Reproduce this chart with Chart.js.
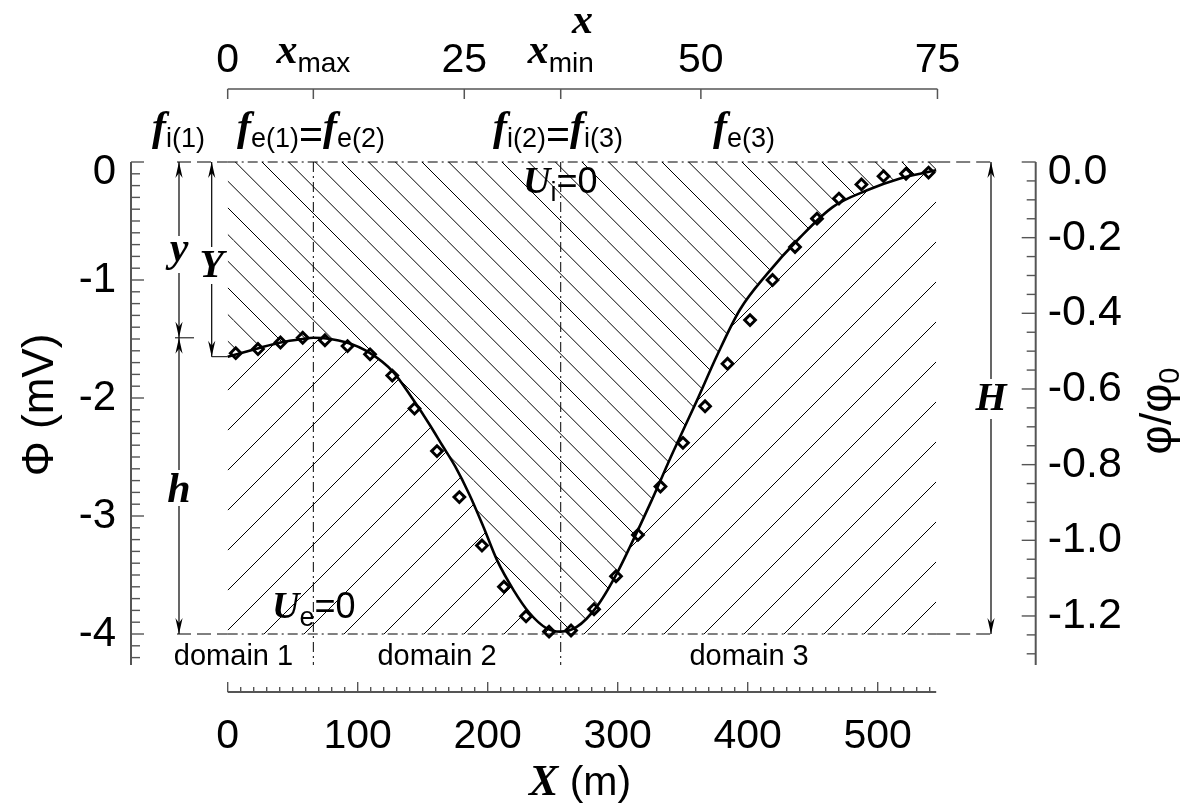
<!DOCTYPE html>
<html>
<head>
<meta charset="utf-8">
<script src="https://cdn.jsdelivr.net/npm/chart.js@4/dist/chart.umd.min.js"></script>
<style>
  html, body { margin: 0; background: #fff; }
  #wrap { width: 1187px; height: 809px; position: relative; }
</style>
</head>
<body>
<div id="wrap"><canvas id="c"></canvas></div>
<script>
// measured potential (diamonds), X in m, Phi in mV
const measX = [6.2, 23.3, 40.6, 57.7, 74.8, 92.2, 109.5, 126.6, 143.7, 161.0, 178.2, 195.6, 212.5, 229.5, 247.2, 264.1,
               281.8, 298.7, 315.6, 332.9, 350.2, 367.2, 384.5, 401.8, 419.1, 436.4, 453.3, 470.2, 487.5, 504.5, 521.8, 539.1];
const measPhi = [-1.62, -1.585, -1.53, -1.49, -1.51, -1.56, -1.63, -1.81, -2.09, -2.45, -2.84, -3.25, -3.60, -3.85, -3.98, -3.97,
                 -3.79, -3.51, -3.16, -2.75, -2.38, -2.07, -1.71, -1.34, -1.00, -0.72, -0.48, -0.31, -0.19, -0.12, -0.10, -0.09];

// model curve (solid line)
const modelX = [0, 23, 40.6, 57.7, 65.9, 91.5, 109.5, 127.4, 143, 155, 165, 175, 186, 197, 207, 220, 232, 245, 256,
                268.5, 283.8, 299.2, 309.5, 325.6, 342.5, 361.0, 376.4, 394.1, 414.8, 440.2, 465.6, 491.8, 517.2, 538.7, 545];
const modelPhi = [-1.65, -1.58, -1.53, -1.50, -1.49, -1.53, -1.62, -1.78, -2.02, -2.22, -2.40, -2.58, -2.82, -3.10, -3.37, -3.63, -3.82, -3.95, -3.98,
                  -3.94, -3.77, -3.49, -3.26, -2.88, -2.46, -2.02, -1.64, -1.25, -0.95, -0.64, -0.38, -0.24, -0.14, -0.085, -0.07];

// axes
const xTicks = [0, 100, 200, 300, 400, 500];
const topTicks = [0, 25, 50, 75];
const phiTicks = [0, -1, -2, -3, -4];
const ratioTicks = [0, -0.2, -0.4, -0.6, -0.8, -1.0, -1.2];
const xMaxTop = 9.05;     // x_max on the top scale
const xMinTop = 35.19;    // x_min on the top scale
const phiTop = 0;
const phiBottom = -4;
const phiPeak = -1.49;
const phiStart = -1.65;
const domainNames = ['domain 1', 'domain 2', 'domain 3'];

const SANS = '"Liberation Sans", Arial, sans-serif';
const SERIF = '"Liberation Serif", "Times New Roman", serif';
const fs = n => n + 'px ' + SANS;
const fi = n => 'italic bold ' + n + 'px ' + SERIF;

const canvas = document.getElementById('c');
const ctx = canvas.getContext('2d');

// hatch pattern: size of tile, number of lines inside, direction, shift
function hatch(size, n, rising, shift) {
  const t = document.createElement('canvas');
  t.width = size; t.height = size;
  const g = t.getContext('2d');
  g.strokeStyle = '#000';
  g.lineWidth = 1;
  const step = size / n;
  for (let k = -n - 1; k <= n + 1; k++) {
    const o = k * step;
    g.beginPath();
    if (rising) { g.moveTo(o, size); g.lineTo(o + size, 0); }
    else { g.moveTo(o, 0); g.lineTo(o + size, size); }
    g.stroke();
  }
  const p = ctx.createPattern(t, 'repeat');
  p.setTransform(new DOMMatrix().translate(shift, 0));
  return p;
}

function seg(c, x1, y1, x2, y2, dash) {
  c.setLineDash(dash || []);
  c.beginPath(); c.moveTo(x1, y1); c.lineTo(x2, y2); c.stroke();
  c.setLineDash([]);
}

function head(c, x, y, dir) { // dir -1 up, +1 down
  c.beginPath();
  c.moveTo(x, y);
  c.lineTo(x - 3.6, y - dir * 16);
  c.lineTo(x, y - dir * 11);
  c.lineTo(x + 3.6, y - dir * 16);
  c.closePath();
  c.fill();
}

function rich(c, parts, x, y, align) {
  let w = 0;
  for (const p of parts) { c.font = p[1]; w += c.measureText(p[0]).width; }
  let cx = align === 'center' ? x - w / 2 : align === 'right' ? x - w : x;
  c.textAlign = 'left';
  c.textBaseline = 'alphabetic';
  for (const p of parts) {
    c.font = p[1];
    c.fillText(p[0], cx, y + (p[2] || 0));
    cx += c.measureText(p[0]).width;
  }
}

// arrow with label gap
function vArrow(c, x, y1, y2, gap1, gap2, headTop, headBot) {
  c.lineWidth = 1.2;
  seg(c, x, y1, x, gap1);
  seg(c, x, gap2, x, y2);
  if (headTop) head(c, x, y1, -1);
  if (headBot) head(c, x, y2, 1);
}

const deco = {
  id: 'deco',
  afterDatasetsDraw(chart) {
    const c = chart.ctx, s = chart.scales, a = chart.chartArea;
    const X = v => s.x.getPixelForValue(v);
    const P = v => s.y.getPixelForValue(v);
    const T = v => s.xt.getPixelForValue(v);
    const R = v => s.yr.getPixelForValue(v);
    c.save();
    c.fillStyle = '#000';
    c.strokeStyle = '#000';

    const yTop = P(phiTop), yBot = P(phiBottom);
    const x0 = X(modelX[0]), x1 = X(modelX[modelX.length - 1]);
    const xa = 179, xA = 211.7, xH = 991;

    // dash-dot reference lines
    c.lineWidth = 1;
    for (const yy of [yTop, yBot]) {
      seg(c, x0, yy, x1, yy, [10, 4, 2, 4]);
      seg(c, xa - 2, yy, x0, yy, [14, 6]);
      seg(c, x1, yy, xH, yy, [14, 6]);
    }
    for (const v of [xMaxTop, xMinTop]) seg(c, T(v), yTop, T(v), a.bottom, [10, 4, 2, 4]);

    // left axis
    c.strokeStyle = '#555';
    c.lineWidth = 2;
    seg(c, a.left, a.top, a.left, a.bottom);
    c.lineWidth = 1.4;
    for (let i = 0; i <= 42; i++) {
      const y = P(-i / 10);
      seg(c, a.left, y, a.left + (i % 10 ? 9 : 13), y);
    }
    // right axis
    c.lineWidth = 2;
    seg(c, a.right, a.top, a.right, a.bottom);
    c.lineWidth = 1.4;
    for (let i = 0; i <= 26; i++) {
      const y = R(-i * 0.05);
      seg(c, a.right, y, a.right - (i % 4 ? 9 : 14), y);
    }
    // bottom axis
    const yb = a.bottom + 27;
    c.lineWidth = 2;
    seg(c, X(0), yb, X(545), yb);
    c.lineWidth = 1.4;
    for (let m = 0; m <= 540; m += 10) seg(c, X(m), yb, X(m), yb - (m % 100 ? 5 : 10));
    // top axis
    const yt = a.top - 73;
    c.lineWidth = 1.5;
    seg(c, T(0), yt, T(75), yt);
    for (const v of [...topTicks, xMaxTop, xMinTop]) seg(c, T(v), yt, T(v), yt + 10);

    // tick labels
    c.fillStyle = '#000';
    c.font = fs(42);
    c.textBaseline = 'middle';
    c.textAlign = 'right';
    for (const v of phiTicks) c.fillText(String(v), a.left - 15, Math.max(P(v), a.top + 10));
    c.font = fs(43);
    c.textAlign = 'left';
    for (const v of ratioTicks) c.fillText(v.toFixed(1), a.right + 12, Math.max(R(v), a.top + 10));
    c.font = fs(41);
    c.textAlign = 'center';
    c.textBaseline = 'alphabetic';
    for (const v of xTicks) c.fillText(String(v), X(v), 748);
    for (const v of topTicks) c.fillText(String(v), T(v), 72);
    rich(c, [['x', fi(42), -9], ['max', fs(28), 0]], T(xMaxTop), 72, 'center');
    rich(c, [['x', fi(42), -9], ['min', fs(28), 0]], T(xMinTop), 72, 'center');

    // axis titles
    rich(c, [['x', fi(42), 0]], 582.5, 33, 'center');
    rich(c, [['X', fi(44), 0], [' (m)', fs(41), 0]], 580, 795, 'center');
    c.save();
    c.translate(53, 405);
    c.rotate(-Math.PI / 2);
    rich(c, [['\u03A6 (mV)', fs(44), 0]], 0, 0, 'center');
    c.restore();
    c.save();
    c.translate(1171, 411);
    c.rotate(-Math.PI / 2);
    rich(c, [['\u03C6/\u03C6', fs(45), 0], ['0', fs(29), 8]], 0, 0, 'center');
    c.restore();

    // f labels
    const sub = fs(27), big = fi(42), eq = fs(41);
    rich(c, [['f', big, 0], ['i(1)', sub, 7]], 152, 140);
    rich(c, [['f', big, 0], ['e(1)', sub, 7], ['=', eq, 8], ['f', big, 0], ['e(2)', sub, 7]], 237, 140);
    rich(c, [['f', big, 0], ['i(2)', sub, 7], ['=', eq, 8], ['f', big, 0], ['i(3)', sub, 7]], 493, 140);
    rich(c, [['f', big, 0], ['e(3)', sub, 7]], 713, 140);

    // potential labels
    rich(c, [['U', fi(38), 0], ['i', sub, 8], ['=0', fs(36), 0]], 523, 193);
    rich(c, [['U', fi(38), 0], ['e', sub, 8], ['=0', fs(36), 0]], 272, 618);

    // domain labels
    c.font = fs(29);
    c.textAlign = 'center';
    c.textBaseline = 'middle';
    const dx = [(T(0) + T(xMaxTop)) / 2 - 37, (T(xMaxTop) + T(xMinTop)) / 2, (T(xMinTop) + T(75)) / 2];
    domainNames.forEach((d, i) => c.fillText(d, dx[i], 657));

    // arrows
    c.fillStyle = '#000';
    c.strokeStyle = '#000';
    const yPeak = P(phiPeak), yStart = P(phiStart);
    vArrow(c, xa, yTop, yPeak, 236, 273, true, true);
    vArrow(c, xa, yPeak, yBot, 470, 506, true, true);
    c.lineWidth = 1;
    seg(c, xa - 4, yPeak, xa + 15, yPeak);
    vArrow(c, xA, yTop, yStart, 247, 284, true, true);
    c.lineWidth = 1;
    seg(c, xA, yStart, X(0), yStart);
    vArrow(c, xH, yTop, yBot, 379, 419, true, true);
    rich(c, [['y', fi(42), 0]], xa, 261, 'center');
    rich(c, [['Y', fi(40), 0]], xA, 277, 'center');
    rich(c, [['h', fi(42), 0]], xa, 502, 'center');
    rich(c, [['H', fi(40), 0]], xH, 410, 'center');

    c.restore();
  }
};

const curve = modelX.map((x, i) => ({ x, y: modelPhi[i] }));
const points = measX.map((x, i) => ({ x, y: measPhi[i] }));
const edgeTop = [{ x: modelX[0], y: phiTop }, { x: modelX[modelX.length - 1], y: phiTop }];
const edgeBot = [{ x: modelX[0], y: phiBottom }, { x: modelX[modelX.length - 1], y: phiBottom }];

new Chart(ctx, {
  type: 'line',
  data: {
    datasets: [
      { data: edgeTop, fill: { target: 2 }, backgroundColor: hatch(80, 3, false, 20), borderWidth: 0, borderColor: 'rgba(0,0,0,0)', pointRadius: 0 },
      { data: edgeBot, fill: { target: 2 }, backgroundColor: hatch(40, 1, true, 18), borderWidth: 0, borderColor: 'rgba(0,0,0,0)', pointRadius: 0 },
      { data: curve, borderColor: '#000', borderWidth: 2.6, pointRadius: 0, cubicInterpolationMode: 'monotone', fill: false },
      { data: points, showLine: false, pointStyle: 'rectRot', pointRadius: 5.4, borderColor: '#000', borderWidth: 2.9,
        backgroundColor: 'rgba(0,0,0,0)', fill: false }
    ]
  },
  options: {
    responsive: true,
    maintainAspectRatio: false,
    animation: false,
    events: [],
    layout: { padding: { left: 131, right: 151.3, top: 162, bottom: 144 } },
    plugins: { legend: { display: false }, tooltip: { enabled: false } },
    scales: {
      x: { type: 'linear', min: -74.38, max: 621.54, display: false },
      y: { type: 'linear', min: -4.2627, max: 0, display: false },
      xt: { type: 'linear', axis: 'x', min: -10.217, max: 85.38, display: false },
      yr: { type: 'linear', axis: 'y', min: -1.3296, max: 0, display: false }
    }
  },
  plugins: [deco]
});
</script>
</body>
</html>
